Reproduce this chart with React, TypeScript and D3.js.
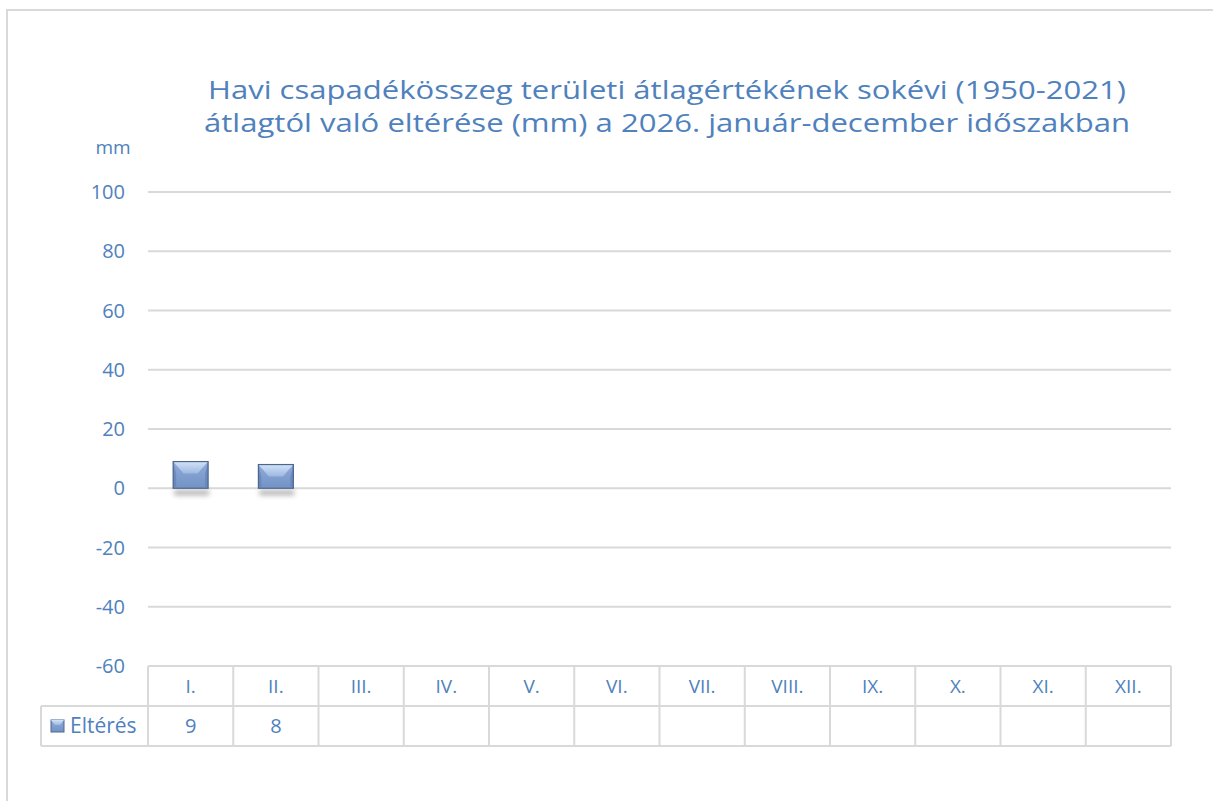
import React from "react";
import * as d3 from "d3";

const months = ["I.", "II.", "III.", "IV.", "V.", "VI.", "VII.", "VIII.", "IX.", "X.", "XI.", "XII."];
const values: (number | null)[] = [9, 8, null, null, null, null, null, null, null, null, null, null];
const yTicks = [-60, -40, -20, 0, 20, 40, 60, 80, 100];
const titleLines = [
  "Havi csapadékösszeg területi átlagértékének sokévi (1950-2021)",
  "átlagtól való eltérése (mm) a 2026. január-december időszakban",
];
const seriesName = "Eltérés";
const unitLabel = "mm";

const W = 1213;
const H = 801;
const plotLeft = 148;
const plotRight = 1171;
const plotTop = 192;
const plotBottom = 666;
const rowH = 40;
const legendLeft = 41;
const textColor = "#4f81bd";
const gridColor = "#d9d9d9";
const font = "'Open Sans', 'Liberation Sans', sans-serif";

export default function App() {
  const y = d3.scaleLinear().domain([-60, 100]).range([plotBottom, plotTop]);
  const x = d3.scaleBand<string>().domain(months).range([plotLeft, plotRight]).paddingInner(0.59).paddingOuter(0.295);
  const cell = d3.scaleBand<string>().domain(months).range([plotLeft, plotRight]);
  const bw = x.bandwidth();
  const row1 = plotBottom;
  const row2 = plotBottom + rowH;
  const row3 = plotBottom + rowH * 2;

  return (
    <svg width={W} height={H} style={{ position: "absolute", left: 0, top: 0, background: "#fff" }} fontFamily={font}>
      <defs>
        <linearGradient id="barFace" x1="0" y1="0" x2="0" y2="1">
          <stop offset="0" stopColor="#8eabd8" />
          <stop offset="1" stopColor="#7393c6" />
        </linearGradient>
        <linearGradient id="barTop" x1="0" y1="0" x2="0" y2="1">
          <stop offset="0" stopColor="#d3e2f6" />
          <stop offset="1" stopColor="#9cb8e2" />
        </linearGradient>
        <linearGradient id="barSide" x1="0" y1="0" x2="1" y2="0">
          <stop offset="0" stopColor="#6d8cbf" />
          <stop offset="1" stopColor="#7c9bcd" />
        </linearGradient>
        <filter id="shadow" x="-30%" y="-100%" width="160%" height="300%">
          <feGaussianBlur stdDeviation="2.5" />
        </filter>
      </defs>
      <rect x={7} y={10} width={W} height={H} fill="#fff" stroke={gridColor} strokeWidth={2} />

      {titleLines.map((t, i) => (
        <text key={i} x={667} y={99 + i * 33} textAnchor="middle" fontSize={26} fill={textColor}
          textLength={i === 0 ? 918 : 926} lengthAdjust="spacingAndGlyphs">
          {t}
        </text>
      ))}

      <text x={113} y={154} textAnchor="middle" fontSize={19} fill={textColor}>{unitLabel}</text>

      {yTicks.filter((t) => t > -60).map((t) => (
        <line key={t} x1={plotLeft} x2={plotRight} y1={y(t)} y2={y(t)} stroke={gridColor} strokeWidth={2} />
      ))}
      {yTicks.map((t) => (
        <text key={t} x={125} y={y(t)} dy="0.35em" textAnchor="end" fontSize={20} fill={textColor}>{t}</text>
      ))}

      {months.map((m, i) => {
        const v = values[i];
        if (v == null) return null;
        const x0 = x(m)!;
        const y0 = y(v);
        const y1 = y(0);
        const h = y1 - y0;
        const d = Math.min(12, h * 0.5);
        const inset = bw * 0.3;
        return (
          <g key={m}>
            <rect x={x0 + 1} y={y1 + 2} width={bw} height={5} fill="#555" opacity={0.45} filter="url(#shadow)" />
            <rect x={x0} y={y0} width={bw} height={h} fill="url(#barFace)" />
            <polygon points={`${x0},${y0} ${x0 + 3},${y0 + d} ${x0 + 3},${y1 - 2} ${x0},${y1}`} fill="#5f7db0" opacity={0.6} />
            <polygon points={`${x0 + bw},${y0} ${x0 + bw - 3},${y0 + d} ${x0 + bw - 3},${y1 - 2} ${x0 + bw},${y1}`} fill="#5f7db0" opacity={0.6} />
            <polygon points={`${x0},${y0} ${x0 + bw},${y0} ${x0 + bw - inset},${y0 + d} ${x0 + inset},${y0 + d}`} fill="url(#barTop)" />
            <rect x={x0} y={y0} width={bw} height={h} fill="none" stroke="#4d6690" strokeWidth={1.2} />
          </g>
        );
      })}

      {/* data table */}
      <g stroke={gridColor} strokeWidth={2} fill="none">
        <line x1={legendLeft} x2={plotRight} y1={row2} y2={row2} />
        <line x1={legendLeft} x2={plotRight} y1={row3} y2={row3} />
        <line x1={plotLeft} x2={plotRight} y1={row1} y2={row1} />
        <line x1={legendLeft} x2={legendLeft} y1={row2} y2={row3} />
        {months.map((m) => (
          <line key={m} x1={cell(m)!} x2={cell(m)!} y1={row1} y2={row3} />
        ))}
        <line x1={plotRight} x2={plotRight} y1={row1} y2={row3} />
      </g>
      {months.map((m, i) => (
        <g key={m}>
          <text x={cell(m)! + cell.bandwidth() / 2} y={row1 + rowH / 2} dy="0.35em" textAnchor="middle" fontSize={19} fill={textColor}>{m}</text>
          {values[i] != null && (
            <text x={cell(m)! + cell.bandwidth() / 2} y={row2 + rowH / 2} dy="0.35em" textAnchor="middle" fontSize={20} fill={textColor}>{values[i]}</text>
          )}
        </g>
      ))}
      <rect x={51} y={row2 + 14} width={13} height={12} fill="url(#barFace)" stroke="#4d6690" strokeWidth={1} />
      <polygon points={`${51},${row2 + 14} ${64},${row2 + 14} ${60},${row2 + 19} ${55},${row2 + 19}`} fill="url(#barTop)" />
      <text x={70} y={row2 + rowH / 2} dy="0.35em" fontSize={21} fill={textColor}>{seriesName}</text>
    </svg>
  );
}
